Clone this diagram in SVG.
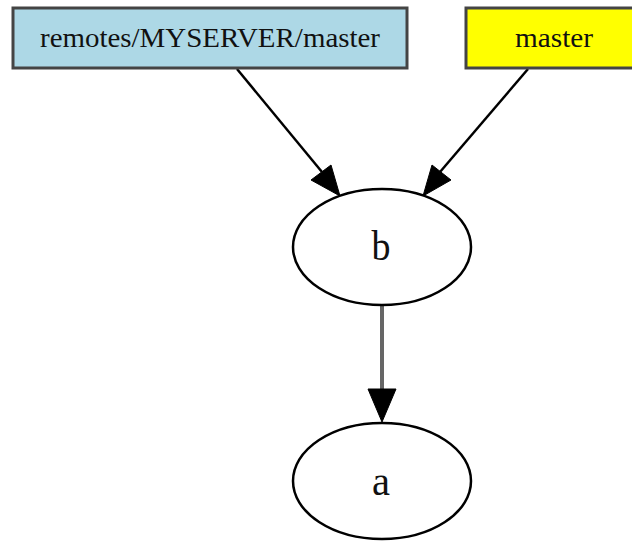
<svg xmlns="http://www.w3.org/2000/svg" width="632" height="541" viewBox="0 0 632 541">
  <style>
    .box { stroke: #444; stroke-width: 3; }
    .ell { fill: #fff; stroke: #000; stroke-width: 2.5; }
    .lbl { font-family: "Liberation Serif", "Times New Roman", serif; fill: #111; text-anchor: middle; }
    .edge { stroke: #000; stroke-width: 2.5; fill: none; }
    .head { fill: #000; stroke: #000; stroke-width: 1; }
  </style>
  <rect width="632" height="541" fill="#fff"/>
  <g id="connectors">
    <path class="edge" d="M237,69 L322,172"/>
    <polygon class="head" points="311,180 340,196 331,165"/>
    <path class="edge" d="M528,69 L440,172"/>
    <polygon class="head" points="432,165 423,196 451,180"/>
    <path class="edge" d="M382,306 L382,390" style="stroke:#666;stroke-width:4"/>
    <polygon class="head" points="368,389 396,389 382,422"/>
  </g>
  <g id="remote">
    <rect class="box" x="13" y="8" width="394" height="60" fill="#add8e6"/>
    <text class="lbl" x="210" y="47" font-size="28" textLength="340" lengthAdjust="spacingAndGlyphs">remotes/MYSERVER/master</text>
  </g>
  <g id="master">
    <rect class="box" x="466" y="8" width="170" height="60" fill="#ffff00"/>
    <text class="lbl" x="554" y="47" font-size="28" textLength="78" lengthAdjust="spacingAndGlyphs">master</text>
  </g>
  <g id="b">
    <ellipse class="ell" cx="382" cy="247" rx="89" ry="58"/>
    <text class="lbl" x="381" y="260" font-size="42" textLength="19" lengthAdjust="spacingAndGlyphs">b</text>
  </g>
  <g id="a">
    <ellipse class="ell" cx="382" cy="481" rx="89" ry="58"/>
    <text class="lbl" x="381" y="495" font-size="42" textLength="18" lengthAdjust="spacingAndGlyphs">a</text>
  </g>
</svg>
